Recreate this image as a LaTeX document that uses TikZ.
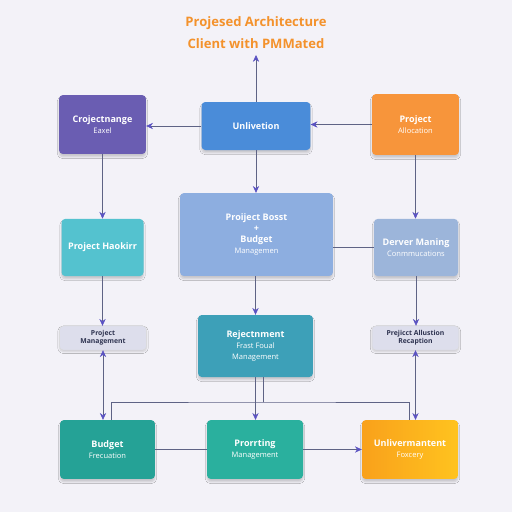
\documentclass[tikz,border=0pt]{standalone}
\usepackage{fontspec}
\setsansfont{Open Sans}
\usepackage{tikz}
\usetikzlibrary{arrows.meta, positioning, shadows.blur}

\definecolor{bgc}{HTML}{F3F2F8}
\definecolor{titlec}{HTML}{F3922C}
\definecolor{linec}{HTML}{5E6385}
\definecolor{tipc}{HTML}{5A52C2}
\definecolor{purplec}{HTML}{6A5DB2}
\definecolor{bluec}{HTML}{4A8CD9}
\definecolor{orangec}{HTML}{F7953B}
\definecolor{aquac}{HTML}{54C2CF}
\definecolor{skyc}{HTML}{8DAEE0}
\definecolor{steelc}{HTML}{9CB5DA}
\definecolor{pillc}{HTML}{DDDEEC}
\definecolor{pilltext}{HTML}{2E3350}
\definecolor{petrolc}{HTML}{3DA0B8}
\definecolor{greenc}{HTML}{25A296}
\definecolor{jadec}{HTML}{2AB09E}
\definecolor{ambera}{HTML}{F9A11B}
\definecolor{amberb}{HTML}{FFC31F}

\begin{document}
\begin{tikzpicture}[
    x=0.35mm, y=-0.35mm,
    tile/.style={rounded corners=1.3mm, align=center, inner sep=1mm, text=white,
        font=\sffamily\fontsize{9}{11}\selectfont,
        blur shadow={shadow xshift=0pt, shadow yshift=-1mm, shadow opacity=18, shadow blur steps=6}},
    pill/.style={rounded corners=1.3mm, draw=black!15, fill=pillc, align=center, inner sep=0.5mm,
        text=pilltext, font=\sffamily\bfseries\fontsize{6.8}{7.8}\selectfont,
        minimum width=30.4mm, minimum height=8.4mm,
        blur shadow={shadow xshift=0pt, shadow yshift=-0.6mm, shadow opacity=15, shadow blur steps=5}},
    flow/.style={draw=linec, line width=0.6pt, -{Stealth[length=2.4mm, width=2.2mm, color=tipc]}},
    both/.style={draw=linec, line width=0.6pt, {Stealth[length=2.4mm, width=2.2mm, color=tipc]}-{Stealth[length=2.4mm, width=2.2mm, color=tipc]}},
    link/.style={draw=linec, line width=0.6pt},
]
\fill[bgc] (0,0) rectangle (512,512);
\useasboundingbox (0,0) rectangle (512,512);

\node[text=titlec, align=center, font=\sffamily\bfseries\fontsize{13}{22}\selectfont] (title) at (256,33) {%
Projesed Architecture\\Client with PMMated%
};
\coordinate (top) at (256,55);

\node[tile, fill=purplec, minimum width=30.4mm, minimum height=20.6mm] (crj) at (102.5,124.5) {%
\textbf{Crojectnange}\\ {\fontsize{7.5}{9.5}\selectfont Eaxel}%
};
\node[tile, fill=bluec, minimum width=38.1mm, minimum height=16.8mm] (unl) at (256,126) {%
\textbf{Unlivetion}%
};
\node[tile, fill=orangec, minimum width=30.4mm, minimum height=21.3mm] (alloc) at (415.5,124.5) {%
\textbf{Project}\\ {\fontsize{7.5}{9.5}\selectfont Allocation}%
};
\node[tile, fill=aquac, minimum width=28.7mm, minimum height=20mm] (haok) at (102.5,247.5) {%
\textbf{Project Haokirr}%
};
\node[tile, fill=skyc, minimum width=53.5mm, minimum height=29mm] (boost) at (256.5,234.5) {%
\textbf{Proiject Bosst}\\ \textbf{+}\\ \textbf{Budget}\\ {\fontsize{7.5}{9.5}\selectfont Managemen}%
};
\node[tile, fill=steelc, minimum width=29.4mm, minimum height=20mm] (derver) at (416,247.5) {%
\textbf{Derver Maning}\\ {\fontsize{7.5}{9.5}\selectfont Conmmucations}%
};
\node[pill] (pm) at (103,338) {Project\\Management};
\node[tile, fill=petrolc, minimum width=40.2mm, minimum height=21.7mm] (rej) at (255.5,346) {%
\textbf{Rejectnment}\\ {\fontsize{7.5}{9.5}\selectfont Frast Foual}\\ {\fontsize{7.5}{9.5}\selectfont Management}%
};
\node[pill] (recep) at (415.5,338) {Prejicct Allustion\\Recaption};
\node[tile, fill=greenc, minimum width=33.2mm, minimum height=20.6mm] (budget) at (107.5,449.5) {%
\textbf{Budget}\\ {\fontsize{7.5}{9.5}\selectfont Frecuation}%
};
\node[tile, fill=jadec, minimum width=33.6mm, minimum height=20.6mm] (prort) at (255,449.5) {%
\textbf{Prorrting}\\ {\fontsize{7.5}{9.5}\selectfont Management}%
};
\node[tile, left color=ambera, right color=amberb, minimum width=33.6mm, minimum height=20.6mm] (univ) at (410,449.5) {%
\textbf{Unlivermantent}\\ {\fontsize{7.5}{9.5}\selectfont Foxcery}%
};
\coordinate (bus) at (263.5,402);

\draw[flow] (unl.north) -- (top);
\draw[flow] (unl.west) -- (unl.west -| crj.east);
\draw[flow] (alloc.west) -- (alloc.west -| unl.east);
\draw[flow] (crj.south) -- (crj.south |- haok.north);
\draw[flow] (unl.south) -- (unl.south |- boost.north);
\draw[flow] (alloc.south) -- (alloc.south |- derver.north);
\draw[link] (derver.west) -- (derver.west -| boost.east);
\draw[flow] (haok.south) -- (haok.south |- pm.north);
\draw[flow] (rej.north |- boost.south) -- (rej.north);
\draw[flow] (derver.south) -- (derver.south |- recep.north);
\draw[both] (pm.south) -- (pm.south |- budget.north);
\draw[both] (recep.south) -- (recep.south |- univ.north);
\draw[flow] (rej.south) -- (rej.south |- prort.north);
\draw[link] ([xshift=2.8mm]rej.south) -- (bus);
\draw[link] ([xshift=1.2mm]budget.north) |- (bus) -| ([xshift=-0.4mm]univ.north);
\draw[link] (budget.east) -- (prort.west);
\draw[flow] (prort.east) -- (univ.west);
\end{tikzpicture}
\end{document}
